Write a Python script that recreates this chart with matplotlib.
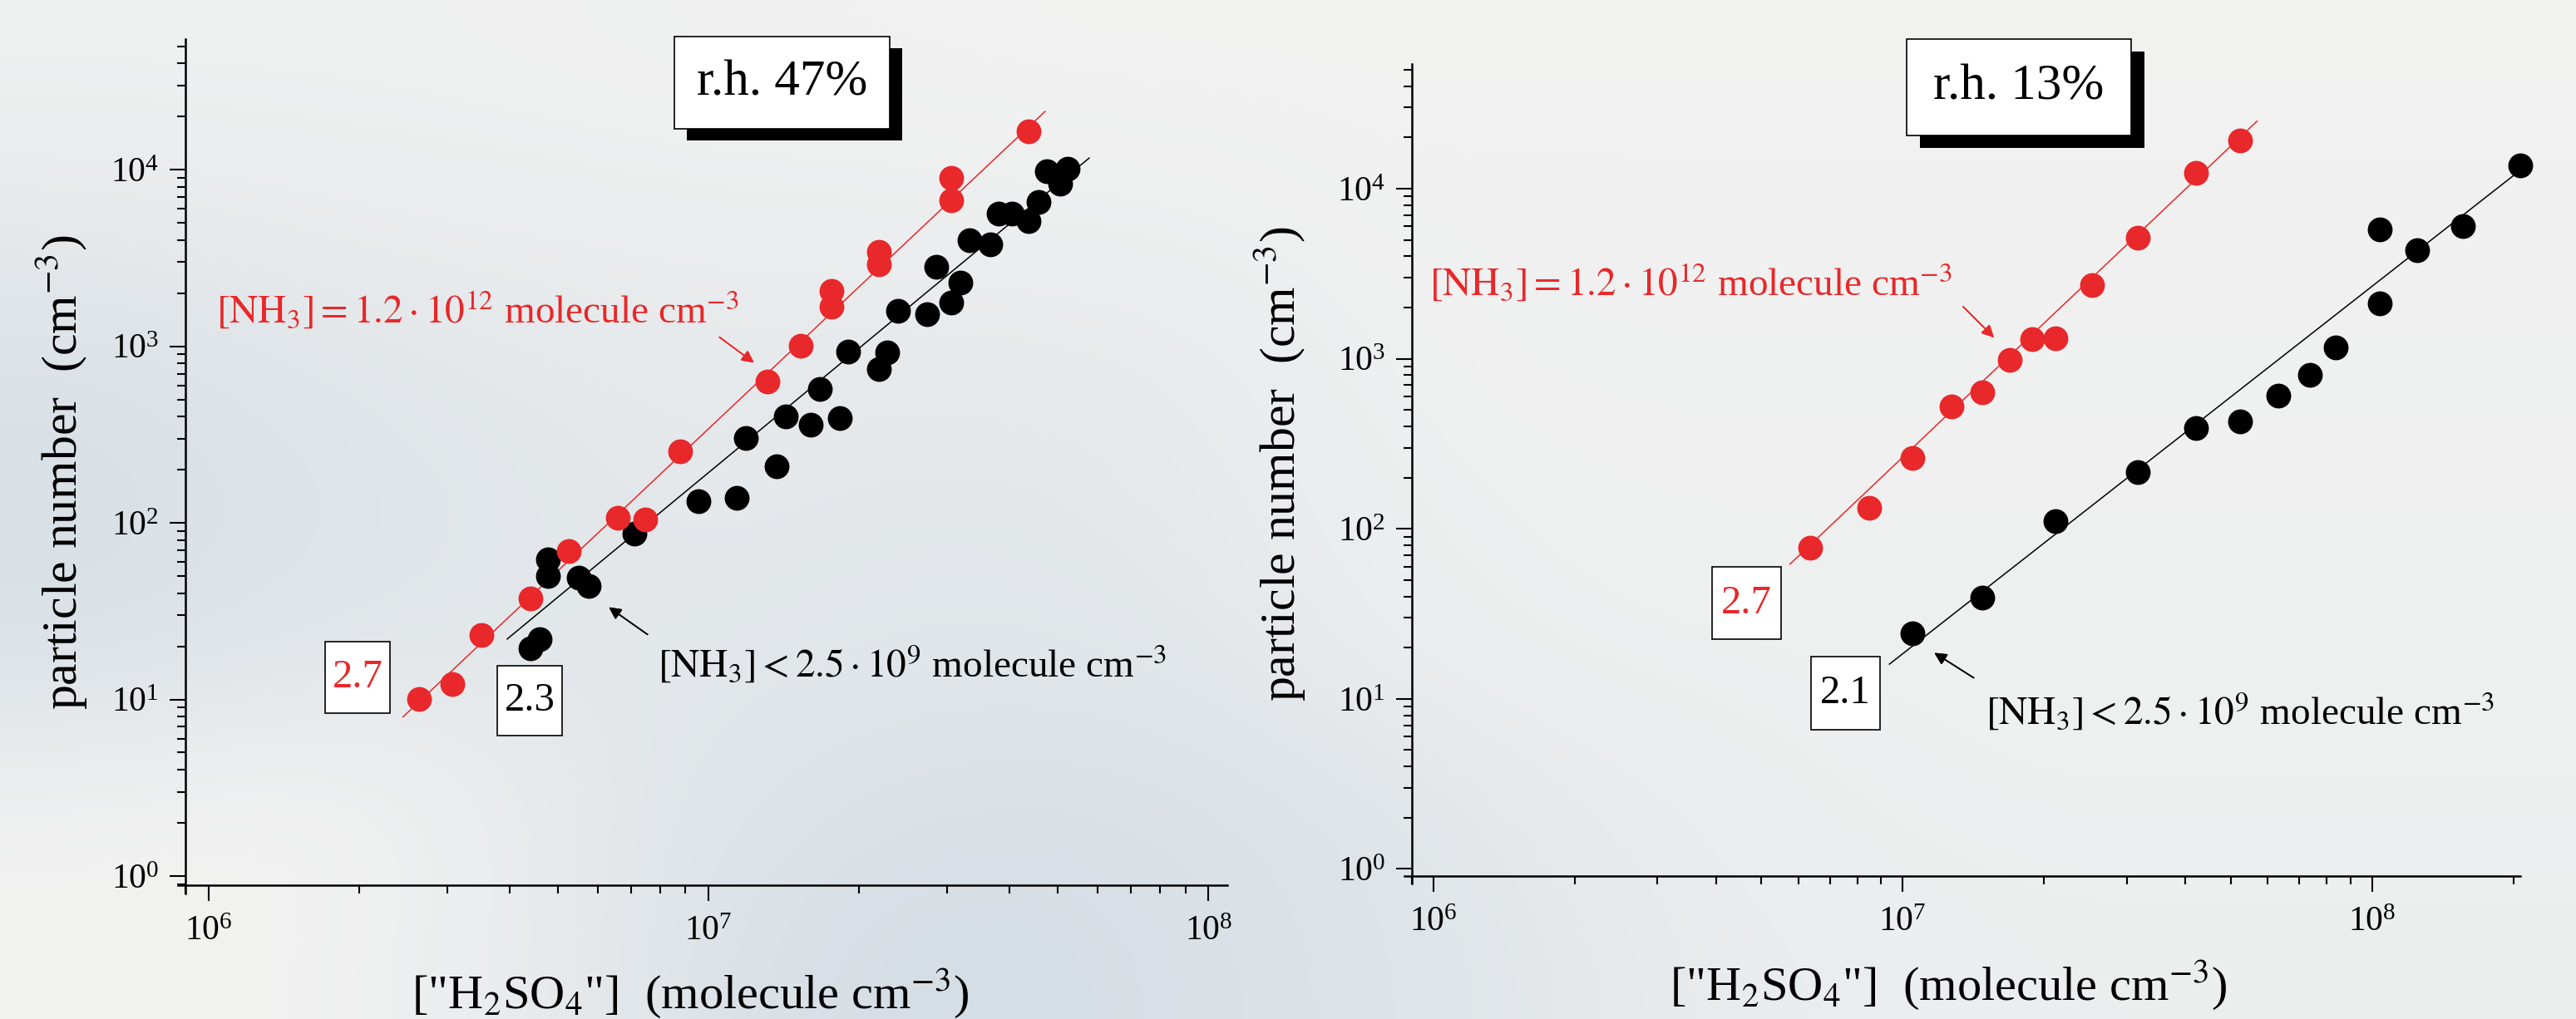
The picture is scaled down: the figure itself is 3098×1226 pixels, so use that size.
import numpy as np
import matplotlib
matplotlib.use("Agg")
import matplotlib.pyplot as plt
from matplotlib.patches import Rectangle

plt.rcParams['font.family'] = ['Liberation Serif', 'DejaVu Serif']
plt.rcParams['mathtext.fontset'] = 'stix'

RED = '#e8282a'

# ---- data ----
# left panel, r.h. 47%
h2so4_47_nh3hi = [2.64e6, 3.07e6, 3.52e6, 4.40e6, 5.26e6, 6.60e6, 7.48e6, 8.79e6,
                  1.31e7, 1.53e7, 1.76e7, 1.76e7, 2.19e7, 2.19e7, 3.06e7, 3.06e7, 4.37e7]
n_47_nh3hi = [10.1, 12.2, 23.1, 37.5, 69.5, 107, 104, 254,
              633, 1008, 1676, 2054, 2904, 3441, 6714, 9030, 16480]
h2so4_47_nh3lo = [4.40e6, 4.59e6, 4.77e6, 4.77e6, 5.50e6, 5.76e6, 7.11e6, 9.55e6,
                  1.14e7, 1.19e7, 1.37e7, 1.43e7, 1.60e7, 1.67e7, 1.83e7, 1.90e7,
                  2.19e7, 2.28e7, 2.39e7, 2.74e7, 2.85e7, 3.06e7, 3.19e7, 3.33e7,
                  3.66e7, 3.80e7, 4.05e7, 4.37e7, 4.57e7, 4.75e7, 5.05e7, 5.22e7]
n_47_nh3lo = [19.4, 22.0, 50, 62.2, 48.7, 44.0, 87.3, 132,
              139, 303, 209, 401, 359, 572, 391, 935,
              743, 919, 1593, 1527, 2833, 1763, 2292, 3974,
              3777, 5623, 5623, 5125, 6607, 9840, 8370, 10090]
fit_47_hi_x = [2.45e6, 4.71e7]
fit_47_hi_y = [7.96, 21400]
fit_47_lo_x = [3.96e6, 5.77e7]
fit_47_lo_y = [22, 11650]

# right panel, r.h. 13%
h2so4_13_nh3hi = [6.34e6, 8.47e6, 1.05e7, 1.27e7, 1.48e7, 1.69e7, 1.89e7, 2.12e7,
                  2.53e7, 3.17e7, 4.22e7, 5.24e7]
n_13_nh3hi = [77.1, 133, 260, 525, 637, 989, 1310, 1322, 2720, 5170, 12350, 19170]
h2so4_13_nh3lo = [1.05e7, 1.48e7, 2.12e7, 3.17e7, 4.22e7, 5.24e7, 6.31e7, 7.36e7,
                  8.38e7, 1.04e8, 1.04e8, 1.25e8, 1.56e8, 2.07e8]
n_13_nh3lo = [24.2, 39.2, 111, 216, 393, 429, 604, 808, 1169, 2108, 5745, 4335, 6000, 13730]
fit_13_hi_x = [5.75e6, 5.69e7]
fit_13_hi_y = [61.9, 24950]
fit_13_lo_x = [9.37e6, 2.26e8]
fit_13_lo_y = [16.0, 15520]

W, H = 3098, 1226


def fx(x):
    return x / W


def fy(y):
    return 1 - y / H


fig = plt.figure(figsize=(W / 100, H / 100), dpi=100)

# cloudy backdrop (0 = light grey, 1 = bluish grey)
cloud = np.array([
    [.08, .08, .08, .06, .04, .03, .02, .02, .02, .02, .02, .02, .02, .02, .02, .02],
    [.30, .25, .20, .18, .15, .15, .12, .10, .05, .05, .05, .05, .05, .05, .05, .05],
    [.60, .50, .40, .35, .30, .30, .30, .25, .10, .05, .05, .05, .05, .05, .05, .05],
    [.70, .60, .50, .40, .35, .40, .40, .30, .15, .10, .08, .08, .08, .08, .08, .08],
    [.60, .50, .40, .40, .40, .45, .45, .40, .20, .12, .10, .10, .10, .10, .10, .10],
    [.05, .00, .05, .30, .50, .60, .65, .60, .50, .30, .20, .12, .10, .10, .10, .10],
    [.00, .00, .10, .30, .60, .75, .75, .65, .55, .40, .25, .20, .15, .15, .15, .15],
])
light = np.array([242, 242, 241]) / 255
blue = np.array([204, 215, 225]) / 255
bg = light[None, None, :] * (1 - cloud[..., None]) + blue[None, None, :] * cloud[..., None]
ax_bg = fig.add_axes([0, 0, 1, 1], zorder=-10)
ax_bg.imshow(bg, aspect='auto', interpolation='bicubic', extent=[0, 1, 0, 1])
ax_bg.set_axis_off()


def setup(ax, xlim, ylim):
    ax.set_xscale('log')
    ax.set_yscale('log')
    ax.set_xlim(*xlim)
    ax.set_ylim(*ylim)
    ax.set_facecolor('none')
    for s in ['top', 'right']:
        ax.spines[s].set_visible(False)
    for s in ['left', 'bottom']:
        ax.spines[s].set_linewidth(1.8)
    # spines poke a little past the corner, as in the original
    ax.spines['left'].set_bounds(ylim[0] * 0.9, ylim[1])
    ax.spines['bottom'].set_bounds(xlim[0] * 0.965, xlim[1])
    ax.tick_params(which='major', direction='out', length=14, width=1.5, labelsize=30)
    ax.tick_params(which='minor', direction='out', length=7, width=1.5)
    ax.tick_params(axis='y', pad=9)
    ax.tick_params(axis='x', pad=12)


def box(x0, y0, x1, y1, txt, color, fs, shadow=None):
    if shadow:
        dx, dy = shadow
        fig.add_artist(Rectangle((fx(x0 + dx), fy(y1 + dy)), fx(x1 - x0), (y1 - y0) / H,
                                 facecolor='black', edgecolor='none', transform=fig.transFigure))
    fig.add_artist(Rectangle((fx(x0), fy(y1)), fx(x1 - x0), (y1 - y0) / H,
                             facecolor='white', edgecolor='black', lw=1.2, transform=fig.transFigure))
    fig.text(fx((x0 + x1) / 2), fy((y0 + y1) / 2), txt, color=color, fontsize=fs,
             ha='center', va='center')


def arrow(x0, y0, x1, y1, color):
    fig.add_artist(plt.annotate('', xy=(fx(x1), fy(y1)), xytext=(fx(x0), fy(y0)),
                                xycoords='figure fraction', textcoords='figure fraction',
                                arrowprops=dict(arrowstyle='-|>', color=color, lw=1.2,
                                                mutation_scale=22)))


lbl_hi = r'$[\mathrm{NH}_3] = 1.2\cdot 10^{12}$ molecule cm$^{-3}$'
lbl_lo = r'$[\mathrm{NH}_3] < 2.5\cdot 10^{9}$ molecule cm$^{-3}$'
xlab = r'["H$_2$SO$_4$"]  (molecule cm$^{-3}$)'
ylab = r'particle number  (cm$^{-3}$)'
ms = 21.5

# left panel
ax1 = fig.add_axes([fx(223), fy(1065), fx(1476 - 223), (1065 - 47) / H])
setup(ax1, (9.0e5, 1.09e8), (0.887, 5.5e4))
ax1.plot(fit_47_hi_x, fit_47_hi_y, color=RED, lw=1.1, zorder=2)
ax1.plot(fit_47_lo_x, fit_47_lo_y, color='black', lw=1.1, zorder=2)
ax1.plot(h2so4_47_nh3lo, n_47_nh3lo, 'o', color='black', ms=ms, mec='none', zorder=3, clip_on=False)
ax1.plot(h2so4_47_nh3hi, n_47_nh3hi, 'o', color=RED, ms=ms, mec='none', zorder=4, clip_on=False)

# right panel
ax2 = fig.add_axes([fx(1698), fy(1054), fx(3031 - 1698), (1054 - 77) / H])
setup(ax2, (9.0e5, 2.07e8), (0.908, 5.41e4))
ax2.plot(fit_13_hi_x, fit_13_hi_y, color=RED, lw=1.1, zorder=2)
ax2.plot(fit_13_lo_x, fit_13_lo_y, color='black', lw=1.1, zorder=2)
ax2.plot(h2so4_13_nh3lo, n_13_nh3lo, 'o', color='black', ms=ms, mec='none', zorder=3, clip_on=False)
ax2.plot(h2so4_13_nh3hi, n_13_nh3hi, 'o', color=RED, ms=ms, mec='none', zorder=4, clip_on=False)

# axis titles
fig.text(fx(92), fy(568), ylab, rotation=90, rotation_mode='anchor', ha='center', va='baseline', fontsize=43)
fig.text(fx(1557), fy(558), ylab, rotation=90, rotation_mode='anchor', ha='center', va='baseline', fontsize=43)
fig.text(fx(830), fy(1214), xlab, ha='center', va='baseline', fontsize=42)
fig.text(fx(2343), fy(1204), xlab, ha='center', va='baseline', fontsize=42)

# annotations
fig.text(fx(260), fy(389), lbl_hi, color=RED, fontsize=34, ha='left', va='baseline')
fig.text(fx(791), fy(815), lbl_lo, color='black', fontsize=34, ha='left', va='baseline')
fig.text(fx(1719), fy(356), lbl_hi, color=RED, fontsize=34, ha='left', va='baseline')
fig.text(fx(2388), fy(872), lbl_lo, color='black', fontsize=34, ha='left', va='baseline')
arrow(863, 404, 909, 438, RED)
arrow(781, 765, 730, 729, 'black')
arrow(2359, 367, 2400, 408, RED)
arrow(2376, 817, 2324, 784, 'black')

box(811, 44, 1070, 155, 'r.h. 47%', 'black', 44, shadow=(15, 14))
box(2293, 47, 2563, 163, 'r.h. 13%', 'black', 44, shadow=(16, 15))
box(391, 772, 469, 858, '2.7', RED, 35)
box(598, 801, 676, 885, '2.3', 'black', 35)
box(2059, 682, 2142, 769, '2.7', RED, 35)
box(2178, 790, 2261, 878, '2.1', 'black', 35)

fig.savefig('out.png', dpi=100)
